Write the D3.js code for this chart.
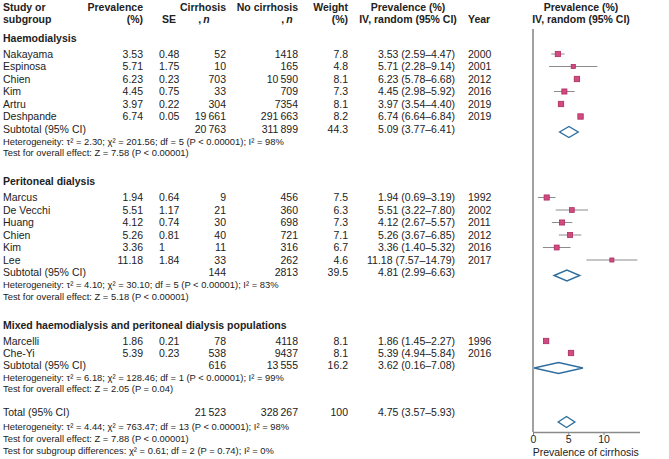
<!DOCTYPE html>
<html>
<head>
<meta charset="utf-8">
<script src="https://cdn.jsdelivr.net/npm/d3@7"></script>
<style>
  body { margin: 0; background: #fff; }
  text { font-family: "Liberation Sans", Arial, sans-serif; fill: #222; }
</style>
</head>
<body>
<svg id="forest"></svg>
<script>
// ---- data ----
var groups = ["Haemodialysis", "Peritoneal dialysis", "Mixed haemodialysis and peritoneal dialysis populations"];

var study = ["Nakayama", "Espinosa", "Chien", "Kim", "Artru", "Deshpande",
             "Marcus", "De Vecchi", "Huang", "Chien", "Kim", "Lee",
             "Marcelli", "Che-Yi"];
var group = [0, 0, 0, 0, 0, 0, 1, 1, 1, 1, 1, 1, 2, 2];
var prevalence = [3.53, 5.71, 6.23, 4.45, 3.97, 6.74, 1.94, 5.51, 4.12, 5.26, 3.36, 11.18, 1.86, 5.39];
var se = [0.48, 1.75, 0.23, 0.75, 0.22, 0.05, 0.64, 1.17, 0.74, 0.81, 1, 1.84, 0.21, 0.23];
var cirrhosis = [52, 10, 703, 33, 304, 19661, 9, 21, 30, 40, 11, 33, 78, 538];
var noCirrhosis = [1418, 165, 10590, 709, 7354, 291663, 456, 360, 698, 721, 316, 262, 4118, 9437];
var weight = [7.8, 4.8, 8.1, 7.3, 8.1, 8.2, 7.5, 6.3, 7.3, 7.1, 6.7, 4.6, 8.1, 8.1];
var ciLow = [2.59, 2.28, 5.78, 2.98, 3.54, 6.64, 0.69, 3.22, 2.67, 3.67, 1.40, 7.57, 1.45, 4.94];
var ciHigh = [4.47, 9.14, 6.68, 5.92, 4.40, 6.84, 3.19, 7.80, 5.57, 6.85, 5.32, 14.79, 2.27, 5.84];
var year = [2000, 2001, 2012, 2016, 2019, 2019, 1992, 2002, 2011, 2012, 2016, 2017, 1996, 2016];

// subgroup summaries
var subPrev = [5.09, 4.81, 3.62];
var subLow = [3.77, 2.99, 0.16];
var subHigh = [6.41, 6.63, 7.08];
var subCirrhosis = [20763, 144, 616];
var subNoCirrhosis = [311899, 2813, 13555];
var subWeight = [44.3, 39.5, 16.2];
var subTau2 = ["2.30", "4.10", "6.18"];
var subChi2 = ["201.56", "30.10", "128.46"];
var subDf = [5, 5, 1];
var subI2 = [98, 83, 99];
var subZ = ["7.58", "5.18", "2.05"];
var subZp = ["< 0.00001", "< 0.00001", "= 0.04"];

// overall
var totalPrev = [4.75], totalLow = [3.57], totalHigh = [5.93];
var totalCirrhosis = [21523], totalNoCirrhosis = [328267], totalWeight = [100];
var totalNotes = [
  "Heterogeneity: \u03c4\u00b2 = 4.44; \u03c7\u00b2 = 763.47; df = 13 (P < 0.00001); I\u00b2 = 98%",
  "Test for overall effect: Z = 7.88 (P < 0.00001)",
  "Test for subgroup differences: \u03c7\u00b2 = 0.61; df = 2 (P = 0.74); I\u00b2 = 0%"
];

var xTicks = [0, 5, 10];

// ---- layout ----
var width = 669, height = 459;
var fs = 10.5, fsSmall = 9.4;
var col = { name: 3, prev: 143, se: 159, seHead: 176, cirr: 226, noCirr: 298, weight: 348, ci: 455, year: 468 };

var svg = d3.select('#forest')
    .attr('width', width)
    .attr('height', height);

var x = d3.scaleLinear()
    .domain([0, 15.1])
    .range([533, 639.5]);

var sq = d3.scaleSqrt()
    .domain([0, 8.2])
    .range([0, 5.4]);

function thin(n) {
    // thousands separated by thin space, as in the figure
    return n >= 10000 ? d3.format(',')(n).replace(/,/g, '\u2009') : String(n);
}
function ci(p, lo, hi) {
    return p.toFixed(2) + ' (' + lo.toFixed(2) + '\u2013' + hi.toFixed(2) + ')';
}

function txt(g, xp, yp, s, anchor, opts) {
    opts = opts || {};
    return g.append('text')
        .attr('x', xp)
        .attr('y', yp)
        .attr('dy', '0.35em')
        .attr('text-anchor', anchor || 'start')
        .style('font-size', (opts.size || fs) + 'px')
        .style('font-weight', opts.bold ? 'bold' : null)
        .text(s);
}

// column headers
var head = svg.append('g');
[[col.name, 'Study or', 'subgroup', 'start'],
 [col.prev, 'Prevalence', '(%)', 'end'],
 [col.seHead, '', 'SE', 'end'],
 [col.weight, 'Weight', '(%)', 'end']].forEach(function (h) {
    txt(head, h[0], 7, h[1], h[3], { bold: true });
    txt(head, h[0], 19, h[2], h[3], { bold: true });
});
txt(head, col.cirr, 7, 'Cirrhosis', 'end', { bold: true });
txt(head, col.cirr - 22, 19, ',\u2009', 'middle', { bold: true }).append('tspan').style('font-style', 'italic').text('n');
txt(head, col.noCirr, 7, 'No cirrhosis', 'end', { bold: true });
txt(head, col.noCirr - 11, 19, ',\u2009', 'middle', { bold: true }).append('tspan').style('font-style', 'italic').text('n');
txt(head, 408, 7, 'Prevalence (%)', 'middle', { bold: true });
txt(head, 408, 19, 'IV, random (95% CI)', 'middle', { bold: true });
txt(head, col.year, 19, 'Year', 'start', { bold: true });
txt(head, 581, 7, 'Prevalence (%)', 'middle', { bold: true });
txt(head, 581, 19, 'IV, random (95% CI)', 'middle', { bold: true });

// compute row positions
var rowY = [], subY = [], hetY = [], headY = [];
var y = 38;
groups.forEach(function (g, gi) {
    headY.push(y);
    y += 16;
    var pitch = gi === 2 ? 12 : 12.5;
    study.forEach(function (s, i) {
        if (group[i] === gi) { rowY[i] = y; y += pitch; }
    });
    subY.push(y);
    hetY.push(y + 12.5);
    y += 12.5 + 11.5 + 28.5;
});
var totalY = hetY[2] + 11.5 + 23.5;

// plot frame
var plot = svg.append('g');
plot.append('line')
    .attr('x1', x(0)).attr('x2', x(0))
    .attr('y1', 29).attr('y2', 432)
    .attr('stroke', '#8a8a8a').attr('stroke-width', 1.6);

var axis = plot.append('g')
    .attr('transform', 'translate(0,432)')
    .call(d3.axisBottom(x).tickValues(xTicks).tickSize(3).tickSizeOuter(0));
axis.select('.domain').attr('stroke', '#8a8a8a').attr('stroke-width', 1.4);
axis.selectAll('.tick line').attr('stroke', '#8a8a8a');
axis.selectAll('.tick text')
    .attr('y', 4)
    .style('font-size', fs + 'px')
    .style('font-family', '"Liberation Sans", Arial, sans-serif')
    .attr('fill', '#222');
txt(plot, x(0) + (x(15.1) - x(0)) / 2 - 0.5, 452.5, 'Prevalence of cirrhosis', 'middle');

// group blocks
var body = svg.append('g');
groups.forEach(function (g, gi) {
    txt(body, col.name, headY[gi], g, 'start', { bold: true });
    txt(body, col.name, subY[gi], 'Subtotal (95% CI)');
    txt(body, col.cirr, subY[gi], thin(subCirrhosis[gi]), 'end');
    txt(body, col.noCirr, subY[gi], thin(subNoCirrhosis[gi]), 'end');
    txt(body, col.weight, subY[gi], subWeight[gi].toFixed(1), 'end');
    txt(body, col.ci, subY[gi], ci(subPrev[gi], subLow[gi], subHigh[gi]), 'end');
    txt(body, col.name, hetY[gi], 'Heterogeneity: \u03c4\u00b2 = ' + subTau2[gi] + '; \u03c7\u00b2 = ' + subChi2[gi] +
        '; df = ' + subDf[gi] + ' (P < 0.00001); I\u00b2 = ' + subI2[gi] + '%', 'start', { size: fsSmall });
    txt(body, col.name, hetY[gi] + 11.5, 'Test for overall effect: Z = ' + subZ[gi] + ' (P ' + subZp[gi] + ')', 'start', { size: fsSmall });
});

// study rows
study.forEach(function (s, i) {
    var yy = rowY[i];
    txt(body, col.name, yy, s);
    txt(body, col.prev, yy, prevalence[i].toFixed(2), 'end');
    txt(body, col.se, yy, String(se[i]), 'start');
    txt(body, col.cirr, yy, thin(cirrhosis[i]), 'end');
    txt(body, col.noCirr, yy, thin(noCirrhosis[i]), 'end');
    txt(body, col.weight, yy, weight[i].toFixed(1), 'end');
    txt(body, col.ci, yy, ci(prevalence[i], ciLow[i], ciHigh[i]), 'end');
    txt(body, col.year, yy, String(year[i]), 'start');
});

// totals
txt(body, col.name, totalY, 'Total (95% CI)');
txt(body, col.cirr, totalY, thin(totalCirrhosis[0]), 'end');
txt(body, col.noCirr, totalY, thin(totalNoCirrhosis[0]), 'end');
txt(body, col.weight, totalY, String(totalWeight[0]), 'end');
txt(body, col.ci, totalY, ci(totalPrev[0], totalLow[0], totalHigh[0]), 'end');
totalNotes.forEach(function (t, k) {
    txt(body, col.name, totalY + 14 + k * 12, t, 'start', { size: fsSmall });
});

// markers
var marks = plot.append('g');
marks.selectAll('line.ci')
    .data(study.map(function (s, i) { return i; }))
    .enter().append('line')
    .attr('class', 'ci')
    .attr('x1', function (i) { return x(ciLow[i]); })
    .attr('x2', function (i) { return x(ciHigh[i]); })
    .attr('y1', function (i) { return rowY[i]; })
    .attr('y2', function (i) { return rowY[i]; })
    .attr('stroke', '#8c8c8c')
    .attr('stroke-width', 1);

marks.selectAll('rect.pt')
    .data(study.map(function (s, i) { return i; }))
    .enter().append('rect')
    .attr('class', 'pt')
    .attr('x', function (i) { return x(prevalence[i]) - sq(weight[i]) / 2; })
    .attr('y', function (i) { return rowY[i] - sq(weight[i]) / 2; })
    .attr('width', function (i) { return sq(weight[i]); })
    .attr('height', function (i) { return sq(weight[i]); })
    .attr('fill', '#d14a80')
    .attr('stroke', '#ad2c60')
    .attr('stroke-width', 0.8);

function diamond(p, lo, hi, yy) {
    var h = 5.5;
    return 'M' + x(lo) + ',' + yy + 'L' + x(p) + ',' + (yy - h) + 'L' + x(hi) + ',' + yy + 'L' + x(p) + ',' + (yy + h) + 'Z';
}
groups.forEach(function (g, gi) {
    marks.append('path')
        .attr('d', diamond(subPrev[gi], subLow[gi], subHigh[gi], subY[gi] + 3))
        .attr('fill', 'none')
        .attr('stroke', '#2f6f9f')
        .attr('stroke-width', 1.4);
});
marks.append('path')
    .attr('d', diamond(totalPrev[0], totalLow[0], totalHigh[0], totalY + 9.5))
    .attr('fill', 'none')
    .attr('stroke', '#2f6f9f')
    .attr('stroke-width', 1.4);
</script>
</body>
</html>
